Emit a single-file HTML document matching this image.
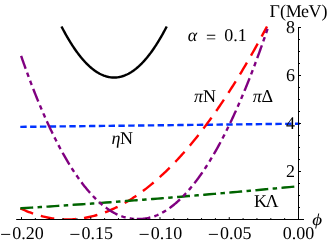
<!DOCTYPE html>
<html><head><meta charset="utf-8"><style>
html,body{margin:0;padding:0;background:#fff;}
svg{display:block}
text{font-family:"Liberation Serif",serif;font-size:18px;fill:#000;text-rendering:geometricPrecision}
.i{font-style:italic}
</style></head><body>
<svg width="327" height="243" viewBox="0 0 327 243">
<rect width="327" height="243" fill="#fff"/>
<defs><clipPath id="cp"><rect x="0" y="0" width="327" height="220"/></clipPath></defs>
<g fill="none" stroke-width="2.4" stroke-linecap="square" clip-path="url(#cp)">
<path d="M62.01,27.50 L62.53,28.50 L63.06,29.49 L63.58,30.47 L64.11,31.44 L64.63,32.40 L65.15,33.35 L65.68,34.29 L66.20,35.22 L66.72,36.14 L67.25,37.05 L67.77,37.95 L68.29,38.84 L68.82,39.72 L69.34,40.59 L69.86,41.45 L70.39,42.30 L70.91,43.14 L71.43,43.97 L71.96,44.79 L72.48,45.59 L73.00,46.39 L73.53,47.18 L74.05,47.96 L74.58,48.73 L75.10,49.49 L75.62,50.23 L76.15,50.97 L76.67,51.70 L77.19,52.42 L77.72,53.13 L78.24,53.82 L78.76,54.51 L79.29,55.19 L79.81,55.86 L80.33,56.51 L80.86,57.16 L81.38,57.80 L81.90,58.42 L82.43,59.04 L82.95,59.65 L83.48,60.24 L84.00,60.83 L84.52,61.41 L85.05,61.97 L85.57,62.53 L86.09,63.07 L86.62,63.61 L87.14,64.13 L87.66,64.65 L88.19,65.16 L88.71,65.65 L89.23,66.14 L89.76,66.61 L90.28,67.08 L90.80,67.53 L91.33,67.98 L91.85,68.41 L92.38,68.84 L92.90,69.25 L93.42,69.65 L93.95,70.05 L94.47,70.43 L94.99,70.81 L95.52,71.17 L96.04,71.52 L96.56,71.87 L97.09,72.20 L97.61,72.52 L98.13,72.84 L98.66,73.14 L99.18,73.43 L99.70,73.72 L100.23,73.99 L100.75,74.25 L101.27,74.51 L101.80,74.75 L102.32,74.98 L102.85,75.20 L103.37,75.42 L103.89,75.62 L104.42,75.81 L104.94,75.99 L105.46,76.16 L105.99,76.33 L106.51,76.48 L107.03,76.62 L107.56,76.75 L108.08,76.87 L108.60,76.98 L109.13,77.08 L109.65,77.17 L110.17,77.26 L110.70,77.33 L111.22,77.39 L111.75,77.44 L112.27,77.48 L112.79,77.51 L113.32,77.53 L113.84,77.54 L114.36,77.54 L114.89,77.53 L115.41,77.51 L115.93,77.48 L116.46,77.44 L116.98,77.39 L117.50,77.33 L118.03,77.26 L118.55,77.17 L119.07,77.08 L119.60,76.98 L120.12,76.87 L120.65,76.75 L121.17,76.62 L121.69,76.48 L122.22,76.33 L122.74,76.16 L123.26,75.99 L123.79,75.81 L124.31,75.62 L124.83,75.42 L125.36,75.20 L125.88,74.98 L126.40,74.75 L126.93,74.51 L127.45,74.25 L127.97,73.99 L128.50,73.72 L129.02,73.43 L129.54,73.14 L130.07,72.84 L130.59,72.52 L131.12,72.20 L131.64,71.87 L132.16,71.52 L132.69,71.17 L133.21,70.81 L133.73,70.43 L134.26,70.05 L134.78,69.65 L135.30,69.25 L135.83,68.84 L136.35,68.41 L136.87,67.98 L137.40,67.53 L137.92,67.08 L138.44,66.61 L138.97,66.14 L139.49,65.65 L140.02,65.16 L140.54,64.65 L141.06,64.13 L141.59,63.61 L142.11,63.07 L142.63,62.53 L143.16,61.97 L143.68,61.41 L144.20,60.83 L144.73,60.24 L145.25,59.65 L145.77,59.04 L146.30,58.42 L146.82,57.80 L147.34,57.16 L147.87,56.51 L148.39,55.86 L148.91,55.19 L149.44,54.51 L149.96,53.82 L150.49,53.13 L151.01,52.42 L151.53,51.70 L152.06,50.97 L152.58,50.23 L153.10,49.49 L153.63,48.73 L154.15,47.96 L154.67,47.18 L155.20,46.39 L155.72,45.59 L156.24,44.79 L156.77,43.97 L157.29,43.14 L157.81,42.30 L158.34,41.45 L158.86,40.59 L159.39,39.72 L159.91,38.84 L160.43,37.95 L160.96,37.05 L161.48,36.14 L162.00,35.22 L162.53,34.29 L163.05,33.35 L163.57,32.40 L164.10,31.44 L164.62,30.47 L165.14,29.49 L165.67,28.50 L166.19,27.50" stroke="#000"/>
<path d="M21.50,126.86 L298.50,123.69" stroke="#0033ff" stroke-dasharray="4.0 5.81"/>
<path d="M21.50,208.85 L22.73,209.42 L23.96,209.97 L25.19,210.50 L26.42,211.02 L27.65,211.52 L28.89,212.01 L30.12,212.48 L31.35,212.94 L32.58,213.38 L33.81,213.80 L35.04,214.21 L36.27,214.61 L37.50,214.99 L38.73,215.35 L39.96,215.70 L41.19,216.03 L42.43,216.35 L43.66,216.65 L44.89,216.93 L46.12,217.20 L47.35,217.46 L48.58,217.70 L49.81,217.92 L51.04,218.13 L52.27,218.32 L53.50,218.50 L54.73,218.66 L55.96,218.81 L57.20,218.94 L58.43,219.06 L59.66,219.16 L60.89,219.24 L62.12,219.31 L63.35,219.37 L64.58,219.41 L65.81,219.43 L67.04,219.44 L68.27,219.44 L69.50,219.42 L70.74,219.38 L71.97,219.33 L73.20,219.26 L74.43,219.18 L75.66,219.08 L76.89,218.97 L78.12,218.84 L79.35,218.70 L80.58,218.54 L81.81,218.37 L83.04,218.18 L84.28,217.98 L85.51,217.76 L86.74,217.53 L87.97,217.28 L89.20,217.02 L90.43,216.74 L91.66,216.45 L92.89,216.14 L94.12,215.82 L95.35,215.48 L96.58,215.12 L97.82,214.76 L99.05,214.37 L100.28,213.97 L101.51,213.56 L102.74,213.13 L103.97,212.69 L105.20,212.23 L106.43,211.76 L107.66,211.27 L108.89,210.77 L110.12,210.25 L111.35,209.72 L112.59,209.17 L113.82,208.61 L115.05,208.03 L116.28,207.44 L117.51,206.84 L118.74,206.22 L119.97,205.58 L121.20,204.93 L122.43,204.26 L123.66,203.58 L124.89,202.89 L126.13,202.18 L127.36,201.45 L128.59,200.71 L129.82,199.96 L131.05,199.19 L132.28,198.41 L133.51,197.61 L134.74,196.80 L135.97,195.97 L137.20,195.13 L138.43,194.27 L139.67,193.40 L140.90,192.52 L142.13,191.62 L143.36,190.70 L144.59,189.77 L145.82,188.83 L147.05,187.87 L148.28,186.90 L149.51,185.91 L150.74,184.91 L151.97,183.89 L153.21,182.86 L154.44,181.82 L155.67,180.76 L156.90,179.68 L158.13,178.59 L159.36,177.49 L160.59,176.37 L161.82,175.24 L163.05,174.09 L164.28,172.93 L165.51,171.76 L166.74,170.57 L167.98,169.36 L169.21,168.15 L170.44,166.91 L171.67,165.67 L172.90,164.41 L174.13,163.13 L175.36,161.84 L176.59,160.54 L177.82,159.22 L179.05,157.88 L180.28,156.54 L181.52,155.18 L182.75,153.80 L183.98,152.41 L185.21,151.01 L186.44,149.59 L187.67,148.16 L188.90,146.71 L190.13,145.25 L191.36,143.78 L192.59,142.29 L193.82,140.79 L195.06,139.27 L196.29,137.74 L197.52,136.19 L198.75,134.63 L199.98,133.06 L201.21,131.47 L202.44,129.87 L203.67,128.25 L204.90,126.63 L206.13,124.98 L207.36,123.32 L208.59,121.65 L209.83,119.97 L211.06,118.27 L212.29,116.55 L213.52,114.83 L214.75,113.09 L215.98,111.33 L217.21,109.56 L218.44,107.78 L219.67,105.98 L220.90,104.17 L222.13,102.34 L223.37,100.51 L224.60,98.65 L225.83,96.79 L227.06,94.91 L228.29,93.01 L229.52,91.10 L230.75,89.18 L231.98,87.25 L233.21,85.30 L234.44,83.34 L235.67,81.36 L236.91,79.37 L238.14,77.36 L239.37,75.35 L240.60,73.31 L241.83,71.27 L243.06,69.21 L244.29,67.14 L245.52,65.05 L246.75,62.95 L247.98,60.84 L249.21,58.71 L250.45,56.57 L251.68,54.41 L252.91,52.25 L254.14,50.06 L255.37,47.87 L256.60,45.66 L257.83,43.44 L259.06,41.20 L260.29,38.95 L261.52,36.69 L262.75,34.41 L263.98,32.12 L265.22,29.82 L266.45,27.50" stroke="#ff0000" stroke-dasharray="11.3 10.5"/>
<path d="M21.50,208.26 L26.19,207.97 L30.89,207.67 L35.58,207.36 L40.28,207.06 L44.97,206.75 L49.67,206.44 L54.36,206.13 L59.06,205.81 L63.75,205.50 L68.45,205.18 L73.14,204.85 L77.84,204.53 L82.53,204.20 L87.23,203.87 L91.92,203.53 L96.62,203.20 L101.31,202.86 L106.01,202.51 L110.70,202.17 L115.40,201.82 L120.09,201.47 L124.79,201.12 L129.48,200.77 L134.18,200.41 L138.87,200.05 L143.57,199.68 L148.26,199.32 L152.96,198.95 L157.65,198.58 L162.35,198.20 L167.04,197.83 L171.74,197.45 L176.43,197.07 L181.13,196.68 L185.82,196.30 L190.52,195.91 L195.21,195.51 L199.91,195.12 L204.60,194.72 L209.30,194.32 L213.99,193.92 L218.69,193.51 L223.38,193.10 L228.08,192.69 L232.77,192.28 L237.47,191.86 L242.16,191.44 L246.86,191.02 L251.55,190.60 L256.25,190.17 L260.94,189.74 L265.64,189.31 L270.33,188.87 L275.03,188.44 L279.72,188.00 L284.42,187.55 L289.11,187.11 L293.81,186.66 L298.50,186.21" stroke="#006400" stroke-dasharray="10.5 6.8 2.1 6.8"/>
<path d="M21.50,57.01 L22.08,58.66 L22.65,60.30 L23.23,61.93 L23.80,63.55 L24.38,65.17 L24.95,66.77 L25.53,68.37 L26.10,69.96 L26.68,71.53 L27.26,73.10 L27.83,74.66 L28.41,76.22 L28.98,77.76 L29.56,79.29 L30.13,80.82 L30.71,82.33 L31.28,83.84 L31.86,85.34 L32.44,86.83 L33.01,88.31 L33.59,89.78 L34.16,91.24 L34.74,92.70 L35.31,94.14 L35.89,95.58 L36.46,97.01 L37.04,98.43 L37.62,99.84 L38.19,101.24 L38.77,102.63 L39.34,104.02 L39.92,105.40 L40.49,106.76 L41.07,108.12 L41.65,109.47 L42.22,110.81 L42.80,112.14 L43.37,113.47 L43.95,114.78 L44.52,116.09 L45.10,117.39 L45.67,118.68 L46.25,119.96 L46.83,121.23 L47.40,122.49 L47.98,123.75 L48.55,124.99 L49.13,126.23 L49.70,127.46 L50.28,128.68 L50.85,129.90 L51.43,131.10 L52.01,132.29 L52.58,133.48 L53.16,134.66 L53.73,135.83 L54.31,136.99 L54.88,138.14 L55.46,139.29 L56.03,140.42 L56.61,141.55 L57.19,142.67 L57.76,143.78 L58.34,144.88 L58.91,145.98 L59.49,147.06 L60.06,148.14 L60.64,149.21 L61.21,150.27 L61.79,151.32 L62.37,152.37 L62.94,153.40 L63.52,154.43 L64.09,155.45 L64.67,156.46 L65.24,157.46 L65.82,158.45 L66.39,159.44 L66.97,160.42 L67.55,161.38 L68.12,162.34 L68.70,163.30 L69.27,164.24 L69.85,165.18 L70.42,166.10 L71.00,167.02 L71.58,167.94 L72.15,168.84 L72.73,169.73 L73.30,170.62 L73.88,171.50 L74.45,172.37 L75.03,173.23 L75.60,174.08 L76.18,174.93 L76.76,175.77 L77.33,176.60 L77.91,177.42 L78.48,178.23 L79.06,179.03 L79.63,179.83 L80.21,180.62 L80.78,181.40 L81.36,182.17 L81.94,182.94 L82.51,183.69 L83.09,184.44 L83.66,185.18 L84.24,185.91 L84.81,186.64 L85.39,187.35 L85.96,188.06 L86.54,188.76 L87.12,189.45 L87.69,190.14 L88.27,190.81 L88.84,191.48 L89.42,192.14 L89.99,192.79 L90.57,193.43 L91.14,194.07 L91.72,194.70 L92.30,195.32 L92.87,195.93 L93.45,196.53 L94.02,197.13 L94.60,197.71 L95.17,198.29 L95.75,198.87 L96.32,199.43 L96.90,199.99 L97.48,200.53 L98.05,201.07 L98.63,201.61 L99.20,202.13 L99.78,202.65 L100.35,203.15 L100.93,203.65 L101.50,204.15 L102.08,204.63 L102.66,205.11 L103.23,205.58 L103.81,206.04 L104.38,206.49 L104.96,206.93 L105.53,207.37 L106.11,207.80 L106.69,208.22 L107.26,208.63 L107.84,209.03 L108.41,209.43 L108.99,209.82 L109.56,210.20 L110.14,210.57 L110.71,210.93 L111.29,211.29 L111.87,211.64 L112.44,211.98 L113.02,212.31 L113.59,212.63 L114.17,212.94 L114.74,213.25 L115.32,213.55 L115.89,213.84 L116.47,214.12 L117.05,214.39 L117.62,214.66 L118.20,214.92 L118.77,215.16 L119.35,215.41 L119.92,215.64 L120.50,215.86 L121.07,216.08 L121.65,216.28 L122.23,216.48 L122.80,216.68 L123.38,216.86 L123.95,217.04 L124.53,217.20 L125.10,217.36 L125.68,217.51 L126.25,217.66 L126.83,217.80 L127.41,217.92 L127.98,218.05 L128.56,218.16 L129.13,218.27 L129.71,218.37 L130.28,218.46 L130.86,218.54 L131.43,218.62 L132.01,218.69 L132.59,218.76 L133.16,218.81 L133.74,218.87 L134.31,218.91 L134.89,218.95 L135.46,218.98 L136.04,219.00" stroke="#800080" stroke-dasharray="11.25 6.57 2.1 6.57 2.1 6.57"/>
<path d="M138.01,219.04 L138.66,219.03 L139.31,219.02 L139.97,219.00 L140.62,218.97 L141.27,218.93 L141.93,218.88 L142.58,218.83 L143.23,218.76 L143.89,218.69 L144.54,218.61 L145.19,218.52 L145.85,218.42 L146.50,218.31 L147.15,218.19 L147.81,218.06 L148.46,217.92 L149.11,217.78 L149.77,217.62 L150.42,217.46 L151.07,217.28 L151.73,217.10 L152.38,216.90 L153.03,216.69 L153.69,216.48 L154.34,216.25 L154.99,216.02 L155.65,215.77 L156.30,215.51 L156.96,215.25 L157.61,214.97 L158.26,214.68 L158.92,214.38 L159.57,214.08 L160.22,213.76 L160.88,213.43 L161.53,213.09 L162.18,212.74 L162.84,212.38 L163.49,212.01 L164.14,211.63 L164.80,211.24 L165.45,210.84 L166.10,210.43 L166.76,210.01 L167.41,209.58 L168.06,209.14 L168.72,208.69 L169.37,208.23 L170.02,207.76 L170.68,207.28 L171.33,206.79 L171.98,206.29 L172.64,205.78 L173.29,205.26 L173.94,204.73 L174.60,204.19 L175.25,203.64 L175.90,203.08 L176.56,202.51 L177.21,201.94 L177.86,201.35 L178.52,200.75 L179.17,200.15 L179.82,199.53 L180.48,198.90 L181.13,198.27 L181.78,197.62 L182.44,196.97 L183.09,196.30 L183.74,195.63 L184.40,194.94 L185.05,194.25 L185.71,193.55 L186.36,192.84 L187.01,192.11 L187.67,191.38 L188.32,190.64 L188.97,189.89 L189.63,189.13 L190.28,188.36 L190.93,187.58 L191.59,186.79 L192.24,185.99 L192.89,185.18 L193.55,184.36 L194.20,183.53 L194.85,182.70 L195.51,181.85 L196.16,180.99 L196.81,180.13 L197.47,179.25 L198.12,178.36 L198.77,177.47 L199.43,176.56 L200.08,175.65 L200.73,174.73 L201.39,173.79 L202.04,172.85 L202.69,171.90 L203.35,170.93 L204.00,169.96 L204.65,168.98 L205.31,167.99 L205.96,166.99 L206.61,165.97 L207.27,164.95 L207.92,163.92 L208.57,162.88 L209.23,161.84 L209.88,160.78 L210.53,159.71 L211.19,158.63 L211.84,157.54 L212.49,156.44 L213.15,155.34 L213.80,154.22 L214.45,153.09 L215.11,151.96 L215.76,150.81 L216.42,149.66 L217.07,148.49 L217.72,147.31 L218.38,146.13 L219.03,144.94 L219.68,143.73 L220.34,142.52 L220.99,141.30 L221.64,140.06 L222.30,138.82 L222.95,137.57 L223.60,136.31 L224.26,135.03 L224.91,133.75 L225.56,132.46 L226.22,131.16 L226.87,129.85 L227.52,128.53 L228.18,127.20 L228.83,125.86 L229.48,124.51 L230.14,123.15 L230.79,121.78 L231.44,120.40 L232.10,119.01 L232.75,117.62 L233.40,116.21 L234.06,114.79 L234.71,113.36 L235.36,111.93 L236.02,110.48 L236.67,109.02 L237.32,107.56 L237.98,106.08 L238.63,104.59 L239.28,103.10 L239.94,101.59 L240.59,100.08 L241.24,98.55 L241.90,97.02 L242.55,95.47 L243.20,93.92 L243.86,92.35 L244.51,90.78 L245.17,89.19 L245.82,87.60 L246.47,85.99 L247.13,84.38 L247.78,82.76 L248.43,81.12 L249.09,79.48 L249.74,77.83 L250.39,76.16 L251.05,74.49 L251.70,72.81 L252.35,71.11 L253.01,69.41 L253.66,67.70 L254.31,65.98 L254.97,64.24 L255.62,62.50 L256.27,60.75 L256.93,58.99 L257.58,57.21 L258.23,55.43 L258.89,53.64 L259.54,51.84 L260.19,50.03 L260.85,48.20 L261.50,46.37 L262.15,44.53 L262.81,42.68 L263.46,40.82 L264.11,38.94 L264.77,37.06 L265.42,35.17 L266.07,33.27 L266.73,31.35 L267.38,29.43 L268.03,27.50" stroke="#800080" stroke-dasharray="11.25 6.57 2.1 6.57 2.1 6.57"/>
</g>
<g stroke="#000" stroke-width="1" fill="none">
<line x1="16.2" y1="219.5" x2="304" y2="219.5"/>
<line x1="298.5" y1="219.5" x2="298.5" y2="27"/>
<line x1="21.50" y1="219.50" x2="21.50" y2="217.10"/><line x1="35.35" y1="219.50" x2="35.35" y2="218.10"/><line x1="49.20" y1="219.50" x2="49.20" y2="218.10"/><line x1="63.05" y1="219.50" x2="63.05" y2="218.10"/><line x1="76.90" y1="219.50" x2="76.90" y2="218.10"/><line x1="90.75" y1="219.50" x2="90.75" y2="217.10"/><line x1="104.60" y1="219.50" x2="104.60" y2="218.10"/><line x1="118.45" y1="219.50" x2="118.45" y2="218.10"/><line x1="132.30" y1="219.50" x2="132.30" y2="218.10"/><line x1="146.15" y1="219.50" x2="146.15" y2="218.10"/><line x1="160.00" y1="219.50" x2="160.00" y2="217.10"/><line x1="173.85" y1="219.50" x2="173.85" y2="218.10"/><line x1="187.70" y1="219.50" x2="187.70" y2="218.10"/><line x1="201.55" y1="219.50" x2="201.55" y2="218.10"/><line x1="215.40" y1="219.50" x2="215.40" y2="218.10"/><line x1="229.25" y1="219.50" x2="229.25" y2="217.10"/><line x1="243.10" y1="219.50" x2="243.10" y2="218.10"/><line x1="256.95" y1="219.50" x2="256.95" y2="218.10"/><line x1="270.80" y1="219.50" x2="270.80" y2="218.10"/><line x1="284.65" y1="219.50" x2="284.65" y2="218.10"/><line x1="298.50" y1="219.50" x2="298.50" y2="217.10"/><line x1="298.50" y1="207.50" x2="300.00" y2="207.50"/><line x1="298.50" y1="195.50" x2="300.00" y2="195.50"/><line x1="298.50" y1="183.50" x2="300.00" y2="183.50"/><line x1="298.50" y1="171.50" x2="301.00" y2="171.50"/><line x1="298.50" y1="159.50" x2="300.00" y2="159.50"/><line x1="298.50" y1="147.50" x2="300.00" y2="147.50"/><line x1="298.50" y1="135.50" x2="300.00" y2="135.50"/><line x1="298.50" y1="123.50" x2="301.00" y2="123.50"/><line x1="298.50" y1="111.50" x2="300.00" y2="111.50"/><line x1="298.50" y1="99.50" x2="300.00" y2="99.50"/><line x1="298.50" y1="87.50" x2="300.00" y2="87.50"/><line x1="298.50" y1="75.50" x2="301.00" y2="75.50"/><line x1="298.50" y1="63.50" x2="300.00" y2="63.50"/><line x1="298.50" y1="51.50" x2="300.00" y2="51.50"/><line x1="298.50" y1="39.50" x2="300.00" y2="39.50"/><line x1="298.50" y1="27.50" x2="301.00" y2="27.50"/>
</g>
<g style="filter:grayscale(1)">
<line x1="1.10" y1="234.4" x2="10.20" y2="234.4" stroke="#000" stroke-width="0.95"/><text transform="matrix(1 0.0004 0 1 12.30 239.30)">0.20</text><line x1="70.35" y1="234.4" x2="79.45" y2="234.4" stroke="#000" stroke-width="0.95"/><text transform="matrix(1 0.0004 0 1 81.55 239.30)">0.15</text><line x1="139.60" y1="234.4" x2="148.70" y2="234.4" stroke="#000" stroke-width="0.95"/><text transform="matrix(1 0.0004 0 1 150.80 239.30)">0.10</text><line x1="208.85" y1="234.4" x2="217.95" y2="234.4" stroke="#000" stroke-width="0.95"/><text transform="matrix(1 0.0004 0 1 220.05 239.30)">0.05</text><text transform="matrix(1 0.0004 0 1 282.80 239.30)">0.00</text><text transform="matrix(1 0.0004 0 1 285.90 177.20)">2</text><text transform="matrix(1 0.0004 0 1 285.90 129.20)">4</text><text transform="matrix(1 0.0004 0 1 285.90 81.20)">6</text><text transform="matrix(1 0.0004 0 1 285.90 33.20)">8</text>
<text transform="matrix(1 0.0004 0 1 269.60 16.50)" x="0.00 10.40 16.10 31.40 39.00 52.00">Γ(MeV)</text><text transform="matrix(1 0.0004 0 1 187.70 40.60)" class="i">α</text><text transform="matrix(1 0.0004 0 1 205.90 42.60)">=</text><text transform="matrix(1 0.0004 0 1 224.20 40.70)">0.1</text><text transform="matrix(1 0.0004 0 1 194.00 102.30)" class="i">π</text><text transform="matrix(1 0.0004 0 1 203.10 102.30)">N</text><text transform="matrix(1 0.0004 0 1 252.80 102.00)" class="i">π</text><text transform="matrix(1 0.0004 0 1 261.60 102.00)">Δ</text><text transform="matrix(1 0.0004 0 1 111.40 143.60)" class="i">η</text><text transform="matrix(1 0.0004 0 1 119.90 143.60)">N</text><text transform="matrix(1 0.0004 0 1 253.90 207.40)" x="0.00 11.70">KΛ</text><text transform="matrix(1 0.0004 0 0.88 312.2 225.0)" class="i" style="font-size:19px">ϕ</text>
</g>
</svg>
</body></html>
